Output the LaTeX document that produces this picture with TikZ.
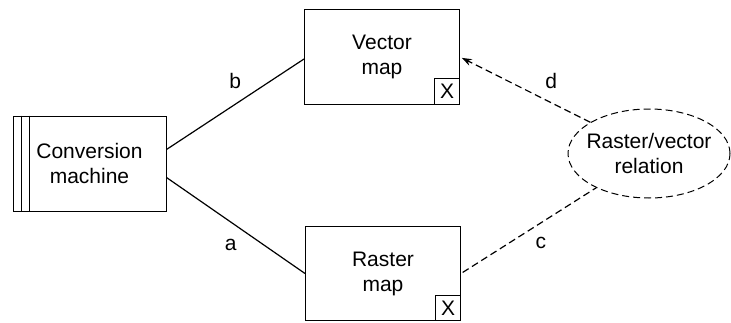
\documentclass[tikz,border=0pt]{standalone}
\usepackage{fontspec}
\setmainfont{Liberation Sans}
\usetikzlibrary{arrows.meta, positioning, shapes.geometric}
\tikzset{
  txt/.style={font=\fontsize{21}{25}\selectfont},
  map/.style={rectangle, draw, line width=1pt, minimum width=155pt,
              minimum height=94pt, align=center, txt},
  machine/.style={map, minimum width=153pt, minimum height=95pt},
  xbox/.style={rectangle, draw, line width=1pt, minimum size=25pt,
               inner sep=0pt, txt},
  relation/.style={ellipse, draw, line width=1pt, dash pattern=on 7pt off 4pt,
                   minimum width=162pt, minimum height=89pt, inner xsep=-20pt,
                   inner ysep=0pt, align=center, txt},
  link/.style={line width=1.2pt},
  dlink/.style={link, dash pattern=on 7pt off 4pt},
  lbl/.style={txt, inner sep=2pt},
}

\begin{document}
\begin{tikzpicture}[x=1pt, y=1pt]
  \useasboundingbox (0,0) rectangle (731,322);
  % boxes
  \node[machine] (conv) at (89.5,158.5) {Conversion\\machine};
  \draw[line width=1pt] ([xshift=9pt]conv.north west) -- ([xshift=9pt]conv.south west);
  \draw[line width=1pt] ([xshift=17pt]conv.north west) -- ([xshift=17pt]conv.south west);
  \node[map] (vector) at (382,265) {Vector\\map};
  \node[xbox, anchor=south east] (vx) at (vector.south east) {X};
  \node[map] (raster) at (383,48.5) {Raster\\map};
  \node[xbox, anchor=south east] (rx) at (raster.south east) {X};
  \node[relation] (rel) at (649,168.5) {Raster/vector\\relation};
  % links
  \draw[link] ([yshift=14pt]conv.east) -- node[lbl, midway, above=13pt] {b} ([yshift=-2pt]vector.west);
  \draw[link] ([yshift=-14pt]conv.east) -- node[lbl, midway, below=11pt, xshift=-5pt] {a} (raster.west);
  \draw[dlink, -{Stealth[length=10pt, width=7pt]}, shorten >=2pt] (rel.152) -- node[lbl, pos=0.3, above=11pt] {d} (vector.east);
  \draw[dlink, shorten <=2pt] (raster.east) -- node[lbl, pos=0.59, below=12pt] {c} (rel.213);
\end{tikzpicture}
\end{document}
